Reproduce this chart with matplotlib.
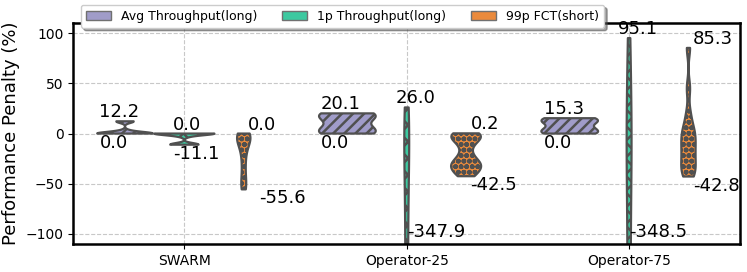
import numpy as np
import matplotlib.pyplot as plt
from matplotlib.patches import Patch

edge = '#505050'
plt.rcParams['hatch.linewidth'] = 1.8
plt.rcParams['hatch.color'] = edge

categories = ['SWARM', 'Operator-25', 'Operator-75']
metrics = ['Avg Throughput(long)', '1p Throughput(long)', '99p FCT(short)']

# penalty samples (%) per scheme / metric
swarm_avg = [0.0, 0.0, 0.0, 0.0, 0.0, 0.0, 0.0, 0.0, 0.0, 0.0, 0.0, 0.0,
             2.0, 3.0, 11.5, 12.2, 12.2, 12.2]
swarm_1p = [0.0, 0.0, 0.0, 0.0, 0.0, 0.0, 0.0, 0.0, 0.0, 0.0, 0.0, 0.0,
            -2.0, -3.0, -10.5, -11.1, -11.1, -11.1, -11.1, -11.1]
swarm_99p = [0.0, 0.0, -1.0, -2.0, -3.5, -5.0, -7.0, -10.0, -14.0, -20.0,
             -28.0, -37.0, -46.0, -52.0, -55.6]
op25_avg = [0.0, 0.5, 1.5, 3.0, 4.5, 15.5, 17.0, 18.5, 19.5, 20.1]
op25_1p = [-347.9, -300.0, -250.0, -200.0, -160.0, -120.0, -80.0, -50.0,
           -20.0, 0.0, 10.0, 26.0]
op25_99p = [0.2, -0.5, -2.0, -4.0, -7.0, -12.0, -20.0, -26.0, -29.0, -31.0,
            -33.0, -36.0, -39.0, -42.5]
op75_avg = [0.0, 0.5, 1.5, 2.5, 3.5, 11.5, 12.5, 13.5, 14.5, 15.3]
op75_1p = [-348.5, -300.0, -240.0, -190.0, -140.0, -100.0, -60.0, -30.0,
           -5.0, 20.0, 50.0, 95.1]
op75_99p = [-42.8, -40.0, -36.0, -31.0, -26.0, -21.0, -16.0, -11.0, -6.0,
            -2.0, 3.0, 8.0, 20.0, 45.0, 85.3]

samples = [[swarm_avg, swarm_1p, swarm_99p],
           [op25_avg, op25_1p, op25_99p],
           [op75_avg, op75_1p, op75_99p]]

colors = ['#a09cc9', '#3dc9a0', '#ea8a3c']
hatches = ['///', 'xx', 'ooo']
offsets = [-0.267, 0.0, 0.267]
peak_widths = [[0.25, 0.27, 0.06], [0.255, 0.022, 0.135], [0.255, 0.022, 0.065]]
bws = [[0.3, 0.3, 0.4], [0.7, 0.3, 0.35], [0.7, 0.3, 0.25]]
max_dx = [[-0.115, -0.05, 0.02], [-0.12, -0.05, 0.02], [-0.115, -0.05, 0.02]]
min_dx = [[-0.115, -0.05, 0.07], [-0.12, 0.0, 0.02], [-0.115, 0.0, 0.02]]
ylow, yhigh = -110, 110

fig = plt.figure(figsize=(7.47, 2.72), dpi=100)
ax = fig.add_axes([0.098, 0.103, 0.893, 0.812])
ax.set_axisbelow(True)
ax.grid(True, linestyle='--', color='#c8c8c8', linewidth=0.8)

for i in range(len(categories)):
    for j in range(len(metrics)):
        vals = samples[i][j]
        pos = i + offsets[j]
        parts = ax.violinplot([vals], positions=[pos], widths=peak_widths[i][j],
                              showextrema=False, bw_method=bws[i][j])
        for body in parts['bodies']:
            body.set_facecolor(colors[j])
            body.set_edgecolor(edge)
            body.set_alpha(1)
            body.set_linewidth(1.6)
            body.set_hatch(hatches[j])
        hi, lo = max(vals), min(vals)
        ax.text(pos + max_dx[i][j], hi, '%.1f' % hi, ha='left', va='bottom', fontsize=13)
        if lo < ylow:
            ax.text(pos + min_dx[i][j], -98, '%.1f' % lo, ha='left', va='center', fontsize=13)
        else:
            ax.text(pos + min_dx[i][j], lo, '%.1f' % lo, ha='left', va='top', fontsize=13)

ax.set_xlim(-0.5, 2.5)
ax.set_ylim(ylow, yhigh)
ax.set_xticks(range(len(categories)))
ax.set_xticklabels(categories, fontsize=10)
ax.set_yticks([-100, -50, 0, 50, 100])
ax.tick_params(axis='y', labelsize=10)
ax.set_ylabel('Performance Penalty (%)', fontsize=13)
for s in ax.spines.values():
    s.set_linewidth(1.8)
    s.set_color('black')

handles = [Patch(facecolor=colors[j], edgecolor='#707070', label=metrics[j]) for j in range(3)]
fig.legend(handles=handles, loc='upper left', bbox_to_anchor=(0.1, 1.005), ncol=3,
           fontsize=9, shadow=True, framealpha=1)

fig.savefig('out.png', dpi=100)
